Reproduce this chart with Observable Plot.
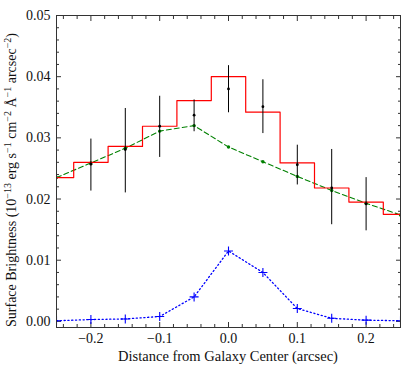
<!DOCTYPE html>
<html>
<head>
<meta charset="utf-8">
<script src="https://cdn.jsdelivr.net/npm/d3@7"></script>
<script src="https://cdn.jsdelivr.net/npm/@observablehq/plot@0.6"></script>
<style>
  body { margin: 0; background: #fff; }
  svg { font-family: "Liberation Serif", "DejaVu Serif", serif; }
</style>
</head>
<body>
<div id="chart"></div>
<script>
// Bin centres (arcsec)
const xs = [-0.25, -0.2, -0.15, -0.1, -0.05, 0.0, 0.05, 0.1, 0.15, 0.2, 0.25];
// Red histogram (model, binned)
const stepVals = [0.0235, 0.0260, 0.0286, 0.0319, 0.0361, 0.0400, 0.0342, 0.0259, 0.0218, 0.0195, 0.0175];
// Green dashed model
const greenVals = [0.0235, 0.0259, 0.0283, 0.0311, 0.0320, 0.0285, 0.0261, 0.0237, 0.0214, 0.0193, 0.0174];
// Blue dotted component
const blueVals = [0.0001, 0.0003, 0.0004, 0.0008, 0.0040, 0.0115, 0.0080, 0.0021, 0.0005, 0.0002, 0.0001];
// Observed data with errorbars
const obsX = [-0.2, -0.15, -0.1, -0.05, 0.0, 0.05, 0.1, 0.15, 0.2];
const obsY = [0.0257, 0.0281, 0.0319, 0.0337, 0.0380, 0.0351, 0.0256, 0.0218, 0.0192];
const obsLo = [0.0213, 0.0210, 0.0268, 0.0310, 0.0341, 0.0307, 0.0223, 0.0158, 0.0148];
const obsHi = [0.0298, 0.0348, 0.0368, 0.0362, 0.0418, 0.0395, 0.0288, 0.0281, 0.0235];
// Ticks
const xMajor = [-0.2, -0.1, 0.0, 0.1, 0.2];
const xMinor = [-0.24, -0.22, -0.18, -0.16, -0.14, -0.12, -0.08, -0.06, -0.04, -0.02, 0.02, 0.04, 0.06, 0.08, 0.12, 0.14, 0.16, 0.18, 0.22, 0.24];
const yMajor = [0.00, 0.01, 0.02, 0.03, 0.04, 0.05];
const yMinor = [0.002, 0.004, 0.006, 0.008, 0.012, 0.014, 0.016, 0.018, 0.022, 0.024, 0.026, 0.028, 0.032, 0.034, 0.036, 0.038, 0.042, 0.044, 0.046, 0.048];

const model = xs.map((x, i) => ({x, step: stepVals[i], green: greenVals[i], blue: blueVals[i]}));
const obs = obsX.map((x, i) => ({x, y: obsY[i], lo: obsLo[i], hi: obsHi[i]}));

const fmtX = d => (d < 0 ? "\u2212" : "") + Math.abs(d).toFixed(1);
const fmtY = d => d.toFixed(2);

const plot = Plot.plot({
  width: 407,
  height: 367,
  marginLeft: 56,
  marginRight: 7,
  marginTop: 15,
  marginBottom: 40,
  style: {fontFamily: "Liberation Serif, DejaVu Serif, serif", fontSize: "14px", color: "#111", background: "#fff"},
  x: {domain: [-0.25, 0.25]},
  y: {domain: [-0.001, 0.05]},
  marks: [
    // ticks inward on all four sides
    Plot.axisX({anchor: "bottom", ticks: xMajor, tickSize: -5, text: null, label: null, stroke: "#333"}),
    Plot.axisX({anchor: "top", ticks: xMajor, tickSize: -5, text: null, label: null, stroke: "#333"}),
    Plot.axisX({anchor: "bottom", ticks: xMinor, tickSize: -3, text: null, label: null, stroke: "#333"}),
    Plot.axisX({anchor: "top", ticks: xMinor, tickSize: -3, text: null, label: null, stroke: "#333"}),
    Plot.axisY({anchor: "left", ticks: yMajor, tickSize: -5, text: null, label: null, stroke: "#333"}),
    Plot.axisY({anchor: "right", ticks: yMajor, tickSize: -5, text: null, label: null, stroke: "#333"}),
    Plot.axisY({anchor: "left", ticks: yMinor, tickSize: -3, text: null, label: null, stroke: "#333"}),
    Plot.axisY({anchor: "right", ticks: yMinor, tickSize: -3, text: null, label: null, stroke: "#333"}),
    // tick labels
    Plot.axisX({anchor: "bottom", ticks: xMajor, tickSize: 0, tickPadding: 6, tickFormat: fmtX, label: null, fontSize: 14}),
    Plot.axisY({anchor: "left", ticks: yMajor, tickSize: 0, tickPadding: 6, tickFormat: fmtY, label: null, fontSize: 14}),
    // blue component
    Plot.line(model, {x: "x", y: "blue", stroke: "#0000ff", strokeWidth: 1.3, strokeDasharray: "1.2,2.6", clip: true}),
    Plot.dot(model, {x: "x", y: "blue", symbol: "plus", r: 3, stroke: "#0000ff", strokeWidth: 1.1, clip: true}),
    // green model
    Plot.line(model, {x: "x", y: "green", stroke: "#008000", strokeWidth: 1.1, strokeDasharray: "5,3", clip: true}),
    Plot.dot(model, {x: "x", y: "green", r: 1.7, fill: "#008000", clip: true}),
    // red binned model
    Plot.line(model, {x: "x", y: "step", curve: "step", stroke: "#ff0000", strokeWidth: 1.2, clip: true}),
    // observations
    Plot.ruleX(obs, {x: "x", y1: "lo", y2: "hi", stroke: "#000", strokeWidth: 1}),
    Plot.dot(obs, {x: "x", y: "y", r: 1.4, fill: "#000"}),
    Plot.frame({stroke: "#333", strokeWidth: 1})
  ]
});

document.getElementById("chart").appendChild(plot);

// Axis titles with superscripts
const svg = d3.select(plot);
svg.append("text")
  .attr("x", 228).attr("y", 361)
  .attr("text-anchor", "middle")
  .attr("font-size", 14.5)
  .attr("fill", "#111")
  .text("Distance from Galaxy Center (arcsec)");

const yt = svg.append("text")
  .attr("transform", "translate(16,180) rotate(-90)")
  .attr("text-anchor", "middle")
  .attr("font-size", 14)
  .attr("fill", "#111");
const parts = [
  ["Surface Brightness (10", false], ["\u221213", true], [" erg s", false], ["\u22121", true],
  [" cm", false], ["\u22122", true], [" \u00C5", false], ["\u22121", true],
  [" arcsec", false], ["\u22122", true], [")", false]
];
parts.forEach(([t, sup], i) => {
  const prevSup = i > 0 && parts[i - 1][1];
  const ts = yt.append("tspan").text(t);
  if (sup) ts.attr("dy", -5).attr("font-size", 10);
  else ts.attr("dy", prevSup ? 5 : 0);
});
</script>
</body>
</html>
